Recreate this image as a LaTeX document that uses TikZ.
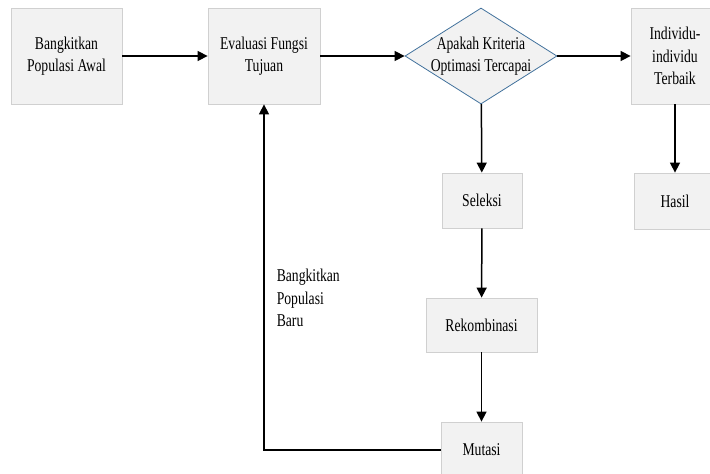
\documentclass[tikz,border=0pt]{standalone}
\usepackage{fontspec}
\setmainfont{Liberation Serif}[FakeStretch=0.76]
\usetikzlibrary{arrows.meta, shapes.geometric}

\definecolor{kotakisi}{HTML}{F2F2F2}
\definecolor{kotakgaris}{HTML}{D0D0D0}
\definecolor{belahgaris}{HTML}{41719C}

\begin{document}
\begin{tikzpicture}[x=1pt, y=-1pt, line width=1.5pt,
  every node/.style={font=\fontsize{18}{22.5}\selectfont},
  kotak/.style={draw=kotakgaris, fill=kotakisi, line width=0.8pt, align=center, inner sep=0pt},
  belah/.style={diamond, draw=belahgaris, fill=kotakisi, line width=0.8pt, minimum width=152pt, minimum height=96pt, inner sep=0pt},
  panah/.style={-{Triangle[length=10pt, width=10pt]}}]
        \useasboundingbox (0,0) rectangle (710,474);

        % kotak-kotak proses
        \node[kotak, minimum width=111pt, minimum height=96pt] (awal) at (66.5,56) {Bangkitkan\\Populasi Awal};
        \node[kotak, minimum width=112pt, minimum height=96pt] (evaluasi) at (264,56) {Evaluasi Fungsi\\Tujuan};
        \node[belah] (kriteria) at (481,56) {};
        \node[align=center] (kriteriateks) at (kriteria) {Apakah Kriteria\\Optimasi Tercapai};
        \node[kotak, minimum width=88pt, minimum height=96pt] (terbaik) at (675,56) {Individu-\\individu\\Terbaik};
        \node[kotak, minimum width=82pt, minimum height=56pt] (hasil) at (675,201) {Hasil};
        \node[kotak, minimum width=80pt, minimum height=55pt] (seleksi) at (482,200.5) {Seleksi};
        \node[kotak, minimum width=111pt, minimum height=54pt] (rekombinasi) at (481.5,325) {Rekombinasi};
        \node[kotak, minimum width=81pt, minimum height=56pt] (mutasi) at (481.5,450) {Mutasi};
        \node[align=left, anchor=west, inner sep=0pt] (baru) at (276,298) {Bangkitkan\\Populasi\\Baru};

        % panah
        \draw[panah] (awal) -- (evaluasi);
        \draw[panah] (evaluasi) -- (kriteria);
        \draw[panah] (kriteria) -- (terbaik);
        \draw[panah] (kriteria) -- (seleksi);
        \draw[panah] (seleksi) -- (rekombinasi);
        \draw[panah] (rekombinasi) -- (mutasi);
        \draw[panah] (terbaik) -- (hasil);
        \draw[panah] (mutasi.west) -| (evaluasi.south);
\end{tikzpicture}
\end{document}
